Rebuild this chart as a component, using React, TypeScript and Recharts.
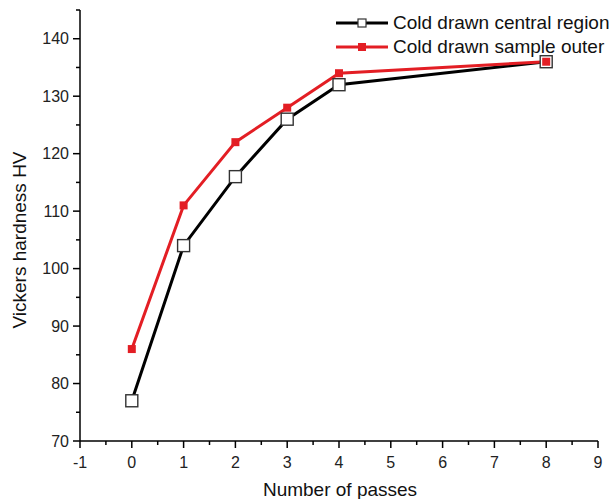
import React from "react";
import { LineChart, Line, XAxis, YAxis } from "recharts";

const passes = [0, 1, 2, 3, 4, 8];
const centralHV = [77, 104, 116, 126, 132, 136];
const outerHV = [86, 111, 122, 128, 134, 136];
const xMajorTicks = [-1, 0, 1, 2, 3, 4, 5, 6, 7, 8, 9];
const yMajorTicks = [70, 80, 90, 100, 110, 120, 130, 140];
const seriesNames = ["Cold drawn central region", "Cold drawn sample outer"];
const xTitle = "Number of passes";
const yTitle = "Vickers hardness HV";

const FONT = "'Liberation Sans', Arial, sans-serif";
const RED = "#e31e24";

const data = passes.map((p, i) => ({ p, central: centralHV[i], outer: outerHV[i] }));
const xTicks: number[] = [];
xMajorTicks.forEach((t, i) => {
  xTicks.push(t);
  if (i < xMajorTicks.length - 1) xTicks.push(t + 0.5);
});
const yTicks: number[] = [];
yMajorTicks.forEach((t) => {
  yTicks.push(t);
  yTicks.push(t + 5);
});

const XTick = (props: any) => {
  const { x, y, payload } = props;
  const major = Number.isInteger(payload.value);
  return (
    <g>
      <line x1={x} x2={x} y1={y} y2={y + (major ? 7 : 4)} stroke="#000" strokeWidth={1.5} />
      {major && (
        <text x={x} y={y + 27} textAnchor="middle" fontSize={16} fill="#222" fontFamily={FONT}>
          {payload.value}
        </text>
      )}
    </g>
  );
};

const YTick = (props: any) => {
  const { x, y, payload } = props;
  const major = payload.value % 10 === 0;
  return (
    <g>
      <line x1={x - (major ? 7 : 4)} x2={x} y1={y} y2={y} stroke="#000" strokeWidth={1.5} />
      {major && (
        <text x={x - 11} y={y} dy="0.35em" textAnchor="end" fontSize={16} fill="#222" fontFamily={FONT}>
          {payload.value}
        </text>
      )}
    </g>
  );
};

const OpenSquare = (props: any) => {
  const { cx, cy, index } = props;
  return (
    <rect key={`o${index}`} x={cx - 6} y={cy - 6} width={12} height={12} fill="#fff" stroke="#333" strokeWidth={1.4} />
  );
};

const FilledSquare = (props: any) => {
  const { cx, cy, index } = props;
  return <rect key={`f${index}`} x={cx - 4} y={cy - 4} width={8} height={8} fill={RED} />;
};

const LegendBox = () => (
  <div
    style={{
      position: "absolute",
      left: 336,
      top: 11,
      width: 280,
      fontFamily: FONT,
      fontSize: 19,
      color: "#111",
    }}
  >
    {seriesNames.map((name, i) => (
      <div key={name} style={{ display: "flex", alignItems: "center", height: 24, whiteSpace: "nowrap" }}>
        <svg width={56} height={14} style={{ marginRight: 1 }}>
          <line x1={0} x2={52} y1={7} y2={7} stroke={i === 0 ? "#000" : RED} strokeWidth={3} />
          {i === 0 ? (
            <rect x={22} y={3} width={8} height={8} fill="#fff" stroke="#333" strokeWidth={1.2} />
          ) : (
            <rect x={22} y={3} width={8} height={8} fill={RED} />
          )}
        </svg>
        <span>{name}</span>
      </div>
    ))}
  </div>
);

export default function App() {
  return (
    <div style={{ position: "absolute", left: 0, top: 0, width: 611, height: 499, background: "#fff" }}>
      <LineChart width={611} height={499} data={data} margin={{ top: 10, right: 13, bottom: 0, left: 0 }}>
        <XAxis
          dataKey="p"
          type="number"
          domain={[-1, 9]}
          ticks={xTicks}
          interval={0}
          height={58}
          tickSize={0}
          tickMargin={0}
          tickLine={false}
          axisLine={{ stroke: "#000", strokeWidth: 1.5 }}
          tick={<XTick />}
          label={{
            content: () => (
              <text x={340} y={496} textAnchor="middle" fontSize={19} fill="#111" fontFamily={FONT}>
                {xTitle}
              </text>
            ),
          }}
        />
        <YAxis
          type="number"
          domain={[70, 145]}
          ticks={yTicks}
          interval={0}
          width={80}
          tickSize={0}
          tickMargin={0}
          tickLine={false}
          axisLine={{ stroke: "#000", strokeWidth: 1.5 }}
          tick={<YTick />}
          label={{
            content: () => (
              <text
                x={26}
                y={240}
                transform="rotate(-90 26 240)"
                textAnchor="middle"
                fontSize={19}
                fill="#111"
                fontFamily={FONT}
              >
                {yTitle}
              </text>
            ),
          }}
        />
        <Line
          type="linear"
          dataKey="central"
          stroke="#000"
          strokeWidth={3}
          dot={<OpenSquare />}
          activeDot={false}
          isAnimationActive={false}
        />
        <Line
          type="linear"
          dataKey="outer"
          stroke={RED}
          strokeWidth={3}
          dot={<FilledSquare />}
          activeDot={false}
          isAnimationActive={false}
        />
      </LineChart>
      <LegendBox />
    </div>
  );
}
